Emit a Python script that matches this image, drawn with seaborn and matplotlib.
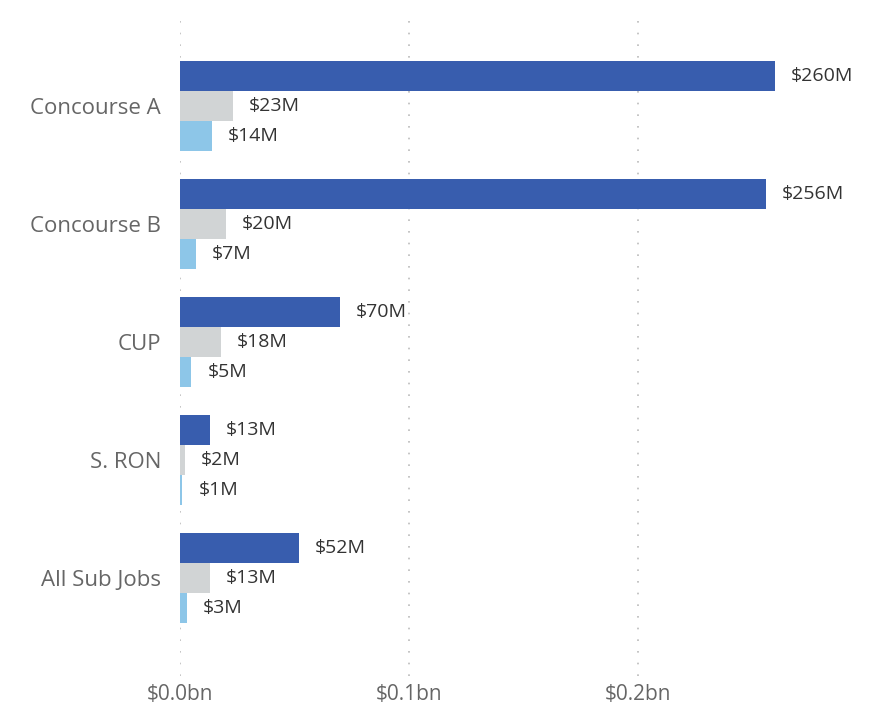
import pandas as pd
import matplotlib.pyplot as plt
import matplotlib.ticker as mticker
import seaborn as sns

# Values in $M
jobs = ["Concourse A", "Concourse B", "CUP", "S. RON", "All Sub Jobs"]
series = ["Series 1", "Series 2", "Series 3"]
series_1 = [260, 256, 70, 13, 52]
series_2 = [23, 20, 18, 2, 13]
series_3 = [14, 7, 5, 1, 3]

colors = ["#385DAE", "#D1D4D5", "#8DC6E8"]

df = pd.DataFrame({
    "Job": jobs * 3,
    "Series": [s for s in series for _ in jobs],
    "Value": series_1 + series_2 + series_3,
})

sns.set_style("white")
plt.rcParams["font.family"] = ["Open Sans", "DejaVu Sans"]

fig = plt.figure(figsize=(8.83, 7.11), dpi=100)
ax = fig.add_axes([180 / 883, 35 / 711, (864 - 180) / 883, (676 - 15) / 711])

sns.barplot(data=df, x="Value", y="Job", hue="Series", order=jobs, hue_order=series,
            palette=colors, width=0.763, gap=0, dodge=True, saturation=1,
            linewidth=0, legend=False, ax=ax)

for cont in ax.containers:
    ax.bar_label(cont, labels=[f"${v:.0f}M" for v in cont.datavalues],
                 padding=11.5, fontsize=14, color="#333333")

ax.set_xlim(0, 299)
ax.set_ylim(4.83, -0.771)
ax.xaxis.set_major_locator(mticker.MultipleLocator(100))
ax.xaxis.set_major_formatter(mticker.FuncFormatter(lambda v, p: f"${v / 1000:.1f}bn"))
ax.grid(axis="x", color="#BBBBBB", linestyle=(0, (1, 6)), linewidth=1.2)
ax.set_axisbelow(True)
ax.tick_params(axis="y", length=0, labelsize=16, labelcolor="#666666", pad=13.5)
ax.tick_params(axis="x", length=0, labelsize=15, labelcolor="#666666", pad=6)
ax.set_xlabel("")
ax.set_ylabel("")
for s in ax.spines.values():
    s.set_visible(False)

fig.savefig("out.png", dpi=100)
